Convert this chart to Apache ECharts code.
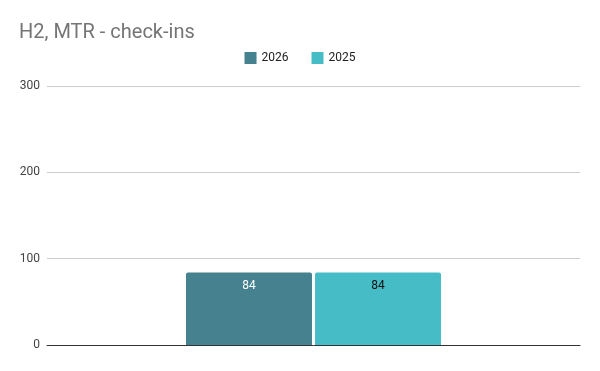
<!DOCTYPE html>
<html><head><meta charset="utf-8">
<script src="https://cdn.jsdelivr.net/npm/echarts@6/dist/echarts.min.js"></script>
<style>html,body{margin:0;padding:0;background:#fff}#c{width:600px;height:371px}</style>
</head><body><div id="c"></div>
<script>
const categories = [''];
const series2026 = [84];
const series2025 = [84];
const yTicks = [0, 100, 200, 300];

const chart = echarts.init(document.getElementById('c'), null, {renderer: 'canvas'});
chart.setOption({
  animation: false,
  backgroundColor: '#fff',
  title: {
    text: 'H2, MTR - check-ins', left: 14, top: 18,
    textStyle: {fontFamily: 'Roboto', fontSize: 20, fontWeight: 'normal', color: '#757575'}
  },
  legend: {
    top: 47, left: 'center', itemWidth: 12, itemHeight: 12, itemGap: 23,
    icon: 'rect',
    textStyle: {fontFamily: 'Roboto', fontSize: 12, color: '#222'},
    data: ['2026', '2025']
  },
  grid: {left: 47, right: 20, top: 86, bottom: 26, containLabel: false},
  xAxis: {
    type: 'category', data: categories,
    axisLine: {lineStyle: {color: '#333'}}, axisTick: {show: false}, axisLabel: {show: false}
  },
  yAxis: {
    type: 'value', min: yTicks[0], max: yTicks[yTicks.length - 1], interval: 100,
    axisLine: {show: false}, axisTick: {show: false},
    axisLabel: {fontFamily: 'Roboto', fontSize: 12, color: '#444', margin: 7},
    splitLine: {lineStyle: {color: '#ccc'}}
  },
  series: [
    {name: '2026', type: 'bar', data: series2026, barWidth: 126, barGap: '2.4%',
     itemStyle: {color: '#45818e', borderRadius: [2, 2, 0, 0]},
     label: {show: true, position: 'insideTop', distance: 8, fontFamily: 'Roboto', fontSize: 12, color: '#fff'}},
    {name: '2025', type: 'bar', data: series2025, barWidth: 126,
     itemStyle: {color: '#46bdc6', borderRadius: [2, 2, 0, 0]},
     label: {show: true, position: 'insideTop', distance: 8, fontFamily: 'Roboto', fontSize: 12, color: '#111'}}
  ]
});
</script></body></html>
